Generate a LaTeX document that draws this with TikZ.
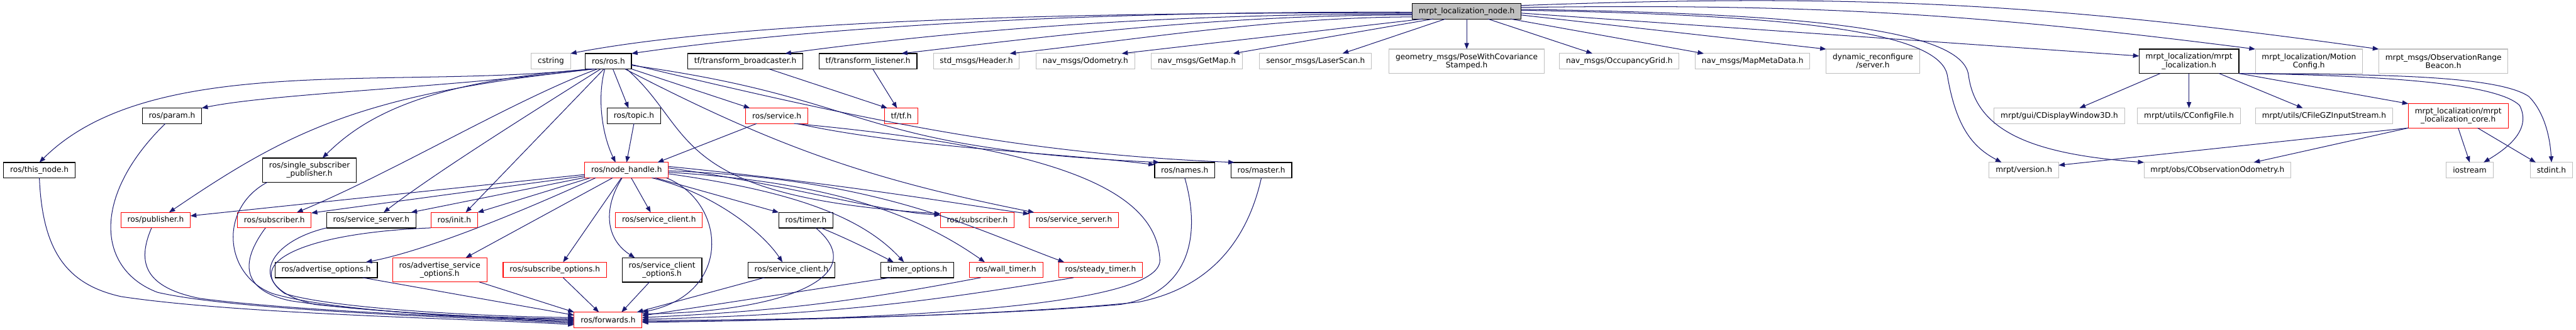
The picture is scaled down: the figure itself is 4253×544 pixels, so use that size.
\documentclass[tikz,border=0pt]{standalone}
\usepackage{fontspec}
\setmainfont{DejaVu Sans}
\usetikzlibrary{arrows.meta}
\definecolor{edgeblue}{HTML}{191970}
\definecolor{nodocgray}{HTML}{BFBFBF}
\definecolor{cutred}{HTML}{FF0000}

\begin{document}
\begin{tikzpicture}[
  x=0.02cm,
  y=0.02cm,
  font=\fontsize{7.2}{7.8}\selectfont,
  file box/.style={
    rectangle,
    line width=0.6pt,
    minimum height=0.51cm,
    inner xsep=0.215cm,
    inner ysep=1.5pt,
    align=center,
    fill=white,
    outer sep=0pt
  },
  doc file/.style={
    file box,
    draw=black,
    line width=0.8pt
  },
  ext file/.style={
    file box,
    draw=nodocgray
  },
  cut file/.style={
    file box,
    draw=cutred
  },
  root file/.style={
    file box,
    draw=black,
    fill=nodocgray
  },
  two lines/.style={
    minimum height=0.8cm
  },
  include arrow/.style={
    -{Triangle[length=0.2cm,width=0.15cm]},
    draw=edgeblue,
    line width=0.6pt
  }
]

\useasboundingbox (0,0) rectangle (4253,544);

\node[root file] (root) at (2421.5,525.5) {mrpt\_localization\_node.h};

\node[ext file] (cstring) at (909.5,443) {cstring};
\node[doc file] (ros-h) at (1004.5,443) {ros/ros.h};
\node[doc file] (tf-broadcaster) at (1230.5,443) {tf/transform\_broadcaster.h};
\node[doc file] (tf-listener) at (1433,443) {tf/transform\_listener.h};
\node[ext file] (std-header) at (1612,443) {std\_msgs/Header.h};
\node[ext file] (nav-odometry) at (1792,443) {nav\_msgs/Odometry.h};
\node[ext file] (nav-getmap) at (1976,443) {nav\_msgs/GetMap.h};
\node[ext file] (laser-scan) at (2172,443) {sensor\_msgs/LaserScan.h};
\node[ext file,two lines] (pose-cov) at (2421.5,443) {geometry\_msgs/PoseWithCovariance\\Stamped.h};
\node[ext file] (nav-occgrid) at (2673.5,443) {nav\_msgs/OccupancyGrid.h};
\node[ext file] (nav-mapmeta) at (2893.5,443) {nav\_msgs/MapMetaData.h};
\node[ext file,two lines] (dyn-server) at (3092,443) {dynamic\_reconfigure\\/server.h};
\node[doc file,two lines] (mrpt-loc) at (3614,443) {mrpt\_localization/mrpt\\\_localization.h};
\node[ext file,two lines] (motion-config) at (3812,443) {mrpt\_localization/Motion\\Config.h};
\node[ext file,two lines] (range-beacon) at (4034,443) {mrpt\_msgs/ObservationRange\\Beacon.h};

\node[doc file] (ros-param) at (284,353) {ros/param.h};
\node[doc file] (ros-topic) at (1046.6,353) {ros/topic.h};
\node[cut file] (ros-service) at (1282.5,353) {ros/service.h};
\node[cut file] (tf-tf) at (1488,353) {tf/tf.h};
\node[ext file] (display-3d) at (3400,353) {mrpt/gui/CDisplayWindow3D.h};
\node[ext file] (config-file) at (3614,353) {mrpt/utils/CConfigFile.h};
\node[ext file] (gz-stream) at (3837,353) {mrpt/utils/CFileGZInputStream.h};
\node[cut file,two lines] (loc-core) at (4058.5,353) {mrpt\_localization/mrpt\\\_localization\_core.h};

\node[doc file] (this-node) at (65,263.5) {ros/this\_node.h};
\node[doc file,two lines] (single-pub) at (511,263.5) {ros/single\_subscriber\\\_publisher.h};
\node[cut file] (node-handle) at (1034.5,263.5) {ros/node\_handle.h};
\node[doc file] (ros-names) at (1956,263.5) {ros/names.h};
\node[doc file] (ros-master) at (2082.5,263.5) {ros/master.h};
\node[ext file] (mrpt-version) at (3341.5,263.5) {mrpt/version.h};
\node[ext file] (obs-odometry) at (3661,263.5) {mrpt/obs/CObservationOdometry.h};
\node[ext file] (iostream) at (4077.5,263.5) {iostream};
\node[ext file] (stdint) at (4212.5,263.5) {stdint.h};

\node[cut file] (ros-publisher) at (257,181) {ros/publisher.h};
\node[cut file] (subscriber-a) at (453,181) {ros/subscriber.h};
\node[doc file] (server-a) at (613,181) {ros/service\_server.h};
\node[cut file] (ros-init) at (750,181) {ros/init.h};
\node[cut file] (client-a) at (1088,181) {ros/service\_client.h};
\node[doc file] (ros-timer) at (1330.5,181) {ros/timer.h};
\node[cut file] (subscriber-b) at (1613.5,181) {ros/subscriber.h};
\node[cut file] (server-b) at (1773,181) {ros/service\_server.h};

\node[doc file] (adv-options) at (538.5,99) {ros/advertise\_options.h};
\node[cut file,two lines] (adv-srv-options) at (726,99) {ros/advertise\_service\\\_options.h};
\node[cut file] (sub-options) at (916,99) {ros/subscribe\_options.h};
\node[doc file,two lines] (client-options) at (1093,99) {ros/service\_client\\\_options.h};
\node[doc file] (client-b) at (1306.5,99) {ros/service\_client.h};
\node[doc file] (timer-options) at (1514.5,99) {timer\_options.h};
\node[cut file] (wall-timer) at (1661,99) {ros/wall\_timer.h};
\node[cut file] (steady-timer) at (1817,99) {ros/steady\_timer.h};

\node[cut file] (forwards) at (1004,16.5) {ros/forwards.h};

\draw[include arrow] (root.182) .. controls (1700,525) and (1200,505) .. (cstring.north east);
\draw[include arrow] (root.181) .. controls (1800,526) and (1350,500) .. (ros-h.north east);
\draw[include arrow] (root.183) .. controls (1900,522) and (1550,490) .. (tf-broadcaster.11);
\draw[include arrow] (root.184) .. controls (2000,520) and (1700,480) .. (tf-listener.13);
\draw[include arrow] (root.186) .. controls (2100,516) and (1850,475) .. (std-header.13);
\draw[include arrow] (root.190) -- (nav-odometry.12);
\draw[include arrow] (root.193) -- (nav-getmap.12);
\draw[include arrow] (root.200) -- (laser-scan.16);
\draw[include arrow] (root.south) -- (pose-cov.north);
\draw[include arrow] (root.340) -- (nav-occgrid.164);
\draw[include arrow] (root.350) -- (nav-mapmeta.171);
\draw[include arrow] (root.356) -- (dyn-server.north west);
\draw[include arrow] (root.358) -- (mrpt-loc.174);
\draw[include arrow] (root.4) to[bend left=4] (motion-config.north west);
\draw[include arrow] (root.6) to[bend left=5] (range-beacon.north west);
\draw[include arrow] (root.1) .. controls (2900,520) and (3200,500) .. (3215,420)
  .. controls (3230,330) and (3260,300) .. (mrpt-version.161);
\draw[include arrow] (root.2) .. controls (2950,522) and (3240,500) .. (3250,420)
  .. controls (3262,330) and (3350,290) .. (obs-odometry.north west);

\draw[include arrow] (ros-h.203) .. controls (650,395) and (250,460) .. (this-node.north);
\draw[include arrow] (ros-h.205) .. controls (750,400) and (450,390) .. (ros-param.north east);
\draw[include arrow] (ros-h.207) .. controls (700,410) and (600,350) .. (single-pub.43);
\draw[include arrow] (ros-h.210) .. controls (600,390) and (480,330) .. (ros-publisher.30);
\draw[include arrow] (ros-h.215) .. controls (850,380) and (650,260) .. (subscriber-a.19);
\draw[include arrow] (ros-h.225) .. controls (880,360) and (720,260) .. (server-a.32);
\draw[include arrow] (ros-h.240) -- (ros-init.34);
\draw[include arrow] (ros-h.300) -- (ros-topic.125);
\draw[include arrow] (ros-h.245) .. controls (985,380) and (995,320) .. (node-handle.145);
\draw[include arrow] (ros-h.south east) -- (ros-service.164);
\draw[include arrow] (ros-h.350) .. controls (1450,380) and (1400,300) .. (ros-names.163);
\draw[include arrow] (ros-h.352) .. controls (1450,340) and (1700,290) .. (ros-master.164);
\draw[include arrow] (ros-h.337) .. controls (1150,330) and (1100,220) .. (subscriber-b.170);
\draw[include arrow] (ros-h.335) to[bend right=8] (server-b.169);

\draw[include arrow] (tf-broadcaster.342) -- (tf-tf.151);
\draw[include arrow] (tf-listener.302) -- (tf-tf.119);

\draw[include arrow] (ros-topic.south) -- (node-handle.north);
\draw[include arrow] (ros-service.201) -- (node-handle.14);
\draw[include arrow] (ros-service.339) .. controls (1500,300) and (1750,292) .. (ros-names.170);
\draw[include arrow] (ros-service.336) .. controls (1750,300) and (1910,230) .. (1915,115)
  .. controls (1915,40) and (1500,18) .. (forwards.356);

\draw[include arrow] (node-handle.186) -- (ros-publisher.7);
\draw[include arrow] (node-handle.188) -- (subscriber-a.11);
\draw[include arrow] (node-handle.190) -- (server-a.11);
\draw[include arrow] (node-handle.192) -- (ros-init.north east);
\draw[include arrow] (node-handle.194) .. controls (850,190) and (700,130) .. (adv-options.11);
\draw[include arrow] (node-handle.209) -- (adv-srv-options.25);
\draw[include arrow] (node-handle.236) -- (sub-options.43);
\draw[include arrow] (node-handle.240) .. controls (995,200) and (1000,150) .. (client-options.156);
\draw[include arrow] (node-handle.301) -- (client-a.137);
\draw[include arrow] (node-handle.349) .. controls (1200,210) and (1210,60) .. (forwards.north east);
\draw[include arrow] (node-handle.345) -- (ros-timer.north west);
\draw[include arrow] (node-handle.343) .. controls (1180,225) and (1260,160) .. (client-b.139);
\draw[include arrow] (node-handle.355) .. controls (1300,230) and (1420,190) .. (timer-options.150);
\draw[include arrow] (node-handle.357) .. controls (1350,245) and (1500,200) .. (wall-timer.160);
\draw[include arrow] (node-handle.359) .. controls (1450,250) and (1600,170) .. (steady-timer.168);
\draw[include arrow] (node-handle.3) .. controls (1300,240) and (1450,195) .. (subscriber-b.172);
\draw[include arrow] (node-handle.5) .. controls (1400,240) and (1600,205) .. (server-b.172);

\draw[include arrow] (ros-timer.333) .. controls (1400,150) and (1440,130) .. (timer-options.162);
\draw[include arrow] (ros-timer.322) .. controls (1440,90) and (1300,30) .. (forwards.10);

\draw[include arrow] (this-node.south) .. controls (70,130) and (110,75) .. (200,55)
  .. controls (400,25) and (800,18) .. (forwards.188);
\draw[include arrow] (ros-param.229) .. controls (150,220) and (160,100) .. (260,62)
  .. controls (400,30) and (800,20) .. (forwards.186);
\draw[include arrow] (single-pub.196) .. controls (360,200) and (370,90) .. (450,60)
  .. controls (550,30) and (800,20) .. (forwards.184);
\draw[include arrow] (ros-publisher.242) .. controls (225,110) and (240,70) .. (330,52)
  .. controls (500,30) and (800,20) .. (forwards.182);
\draw[include arrow] (subscriber-a.221) .. controls (395,110) and (400,65) .. (480,48)
  .. controls (600,30) and (800,20) .. (forwards.180);
\draw[include arrow] (server-a.south west) .. controls (440,145) and (400,70) .. (520,42)
  .. controls (650,28) and (800,20) .. (forwards.178);
\draw[include arrow] (ros-init.south west) .. controls (500,160) and (400,110) .. (470,60)
  .. controls (550,35) and (800,22) .. (forwards.176);
\draw[include arrow] (adv-options.348) -- (forwards.172);
\draw[include arrow] (adv-srv-options.343) -- (forwards.north west);
\draw[include arrow] (sub-options.317) -- (forwards.140);
\draw[include arrow] (client-options.224) -- (forwards.30);
\draw[include arrow] (client-b.196) -- (forwards.15);
\draw[include arrow] (timer-options.196) -- (forwards.7);
\draw[include arrow] (wall-timer.197) to[bend left=4] (forwards.4);
\draw[include arrow] (steady-timer.196) to[bend left=4] (forwards.1);
\draw[include arrow] (ros-names.south) .. controls (1985,150) and (1960,60) .. (1850,42)
  .. controls (1600,20) and (1200,16) .. (forwards.359);
\draw[include arrow] (ros-master.south) .. controls (2060,150) and (2000,70) .. (1880,46)
  .. controls (1650,22) and (1200,14) .. (forwards.357);

\draw[include arrow] (mrpt-loc.203) -- (display-3d.21);
\draw[include arrow] (mrpt-loc.south) -- (config-file.north);
\draw[include arrow] (mrpt-loc.338) -- (gz-stream.160);
\draw[include arrow] (mrpt-loc.south east) -- (loc-core.north west);
\draw[include arrow] (mrpt-loc.south east) .. controls (3900,420) and (4120,410) .. (4160,370)
  .. controls (4180,330) and (4140,300) .. (iostream.29);
\draw[include arrow] (mrpt-loc.south east) .. controls (3900,421) and (4120,422) .. (4175,385)
  .. controls (4200,360) and (4210,320) .. (stdint.north);

\draw[include arrow] (loc-core.south west) -- (obs-odometry.12);
\draw[include arrow] (loc-core.south west) -- (mrpt-version.8);
\draw[include arrow] (loc-core.south) -- (iostream.north);
\draw[include arrow] (loc-core.328) -- (stdint.154);

\end{tikzpicture}
\end{document}
